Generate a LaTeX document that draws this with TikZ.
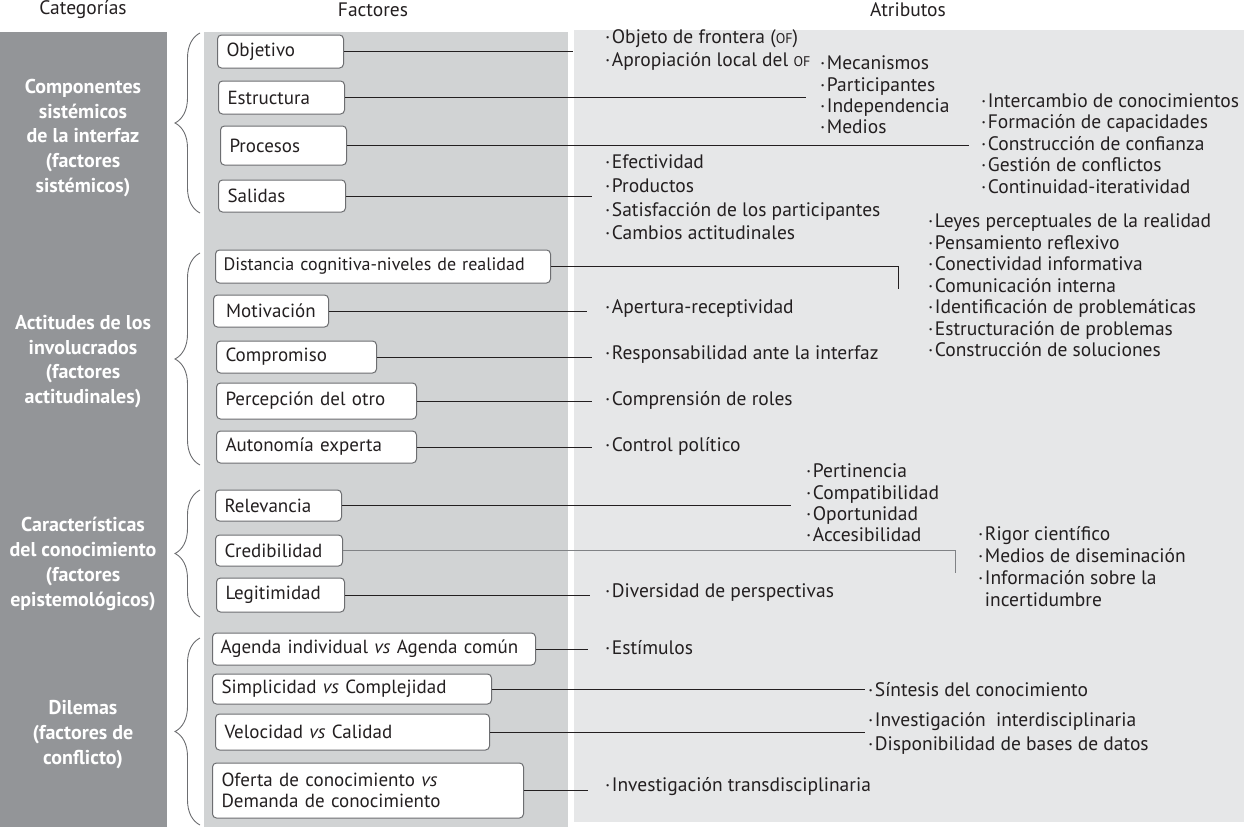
\documentclass[tikz,border=0pt]{standalone}
\usepackage{fontspec}
\setmainfont{PT Sans}
\usetikzlibrary{decorations.pathreplacing}
\definecolor{catgray}{HTML}{939598}
\definecolor{facgray}{HTML}{D1D3D4}
\definecolor{atrgray}{HTML}{E6E7E8}
\definecolor{boxedge}{HTML}{6D6E71}
\definecolor{inkblack}{HTML}{231F20}
\definecolor{linkgray}{HTML}{808285}
\tikzset{
  factorbox/.style={draw=boxedge, line width=1pt, fill=white, rounded corners=4pt, anchor=west, inner xsep=9pt, inner ysep=0pt, align=left, text=inkblack, font=\fontsize{19}{21.5}\selectfont},
  attrtext/.style={anchor=west, inner sep=0pt, align=left, text=inkblack, font=\fontsize{19.5}{21.4}\selectfont},
  cattext/.style={text=white, align=center, font=\bfseries\fontsize{20}{24.8}\selectfont},
  headtext/.style={text=inkblack, font=\fontsize{19.5}{22}\selectfont},
  link/.style={draw=inkblack, line width=1pt},
  catbrace/.style={draw=boxedge, line width=0.9pt, decorate, decoration={brace, amplitude=25pt}}
}
\newcommand{\ofsc}{{\fontsize{14}{16}\selectfont OF}}
\newcommand{\bul}{·\kern1.5pt}
\begin{document}
\begin{tikzpicture}[x=1pt, y=-1pt]
  \useasboundingbox (0,0) rectangle (1244,827);
  % column backgrounds
  \fill[catgray] (0,32) rectangle (167,827);
  \fill[facgray] (204,32) rectangle (568,827);
  \fill[atrgray] (574,30) rectangle (1244,822);
  % headers
  \node[headtext] (hcat) at (83,10) {Categorías};
  \node[headtext] (hfac) at (373,10) {Factores};
  \node[headtext] (hatr) at (908,10) {Atributos};
  % categories
  \node[cattext] (ccomp) at (83,138) {Componentes\\sistémicos\\de la interfaz\\(factores\\sistémicos)};
  \node[cattext] (cact) at (83,361.5) {Actitudes de los\\involucrados\\(factores\\actitudinales)};
  \node[cattext] (ccar) at (83,564) {Características\\del conocimiento\\(factores\\epistemológicos)};
  \node[cattext] (cdil) at (83,734.5) {Dilemas\\(factores de\\conflicto)};
  % braces
  \draw[catbrace] (200,213) -- (200,33);
  \draw[catbrace] (200,465) -- (200,253);
  \draw[catbrace] (200,617) -- (200,490);
  \draw[catbrace] (200,825) -- (200,638);
  % factors
  \node[factorbox, text width=108pt, minimum height=33pt] (obj) at (217,51.5) {Objetivo};
  \node[factorbox, text width=108pt, minimum height=33pt] (est) at (218,97.5) {Estructura};
  \node[factorbox, text width=108pt, minimum height=39pt] (pro) at (220,145.5) {Procesos};
  \node[factorbox, text width=109pt, minimum height=32pt] (sal) at (218,196) {Salidas};
  \node[factorbox, text width=319pt, minimum height=33pt, inner xsep=8pt, font=\fontsize{18}{21.5}\selectfont] (dis) at (215,266.5) {\mbox{Distancia cognitiva-niveles de realidad}};
  \node[factorbox, text width=105pt, minimum height=32pt, inner xsep=5pt, align=center] (mot) at (213,311) {Motivación};
  \node[factorbox, text width=142pt, minimum height=32pt] (com) at (216,357) {Compromiso};
  \node[factorbox, text width=182pt, minimum height=36pt] (per) at (216,401) {Percepción del otro};
  \node[factorbox, text width=182pt, minimum height=32pt] (aut) at (216,447) {Autonomía experta};
  \node[factorbox, text width=108pt, minimum height=31pt] (rel) at (215,505.5) {Relevancia};
  \node[factorbox, text width=109pt, minimum height=31pt] (cre) at (215,550.5) {Credibilidad};
  \node[factorbox, text width=110pt, minimum height=34pt] (leg) at (216,595) {Legitimidad};
  \node[factorbox, text width=307pt, minimum height=32pt, inner xsep=8pt] (age) at (212,649) {Agenda individual \textit{vs} Agenda común};
  \node[factorbox, text width=261pt, minimum height=30pt] (sim) at (212,689) {Simplicidad \textit{vs} Complejidad};
  \node[factorbox, text width=256pt, minimum height=36pt] (vel) at (215,732) {Velocidad \textit{vs} Calidad};
  \node[factorbox, text width=293pt, minimum height=55pt] (ofe) at (212,790.5) {Oferta de conocimiento \textit{vs}\\Demanda de conocimiento};
  % attributes
  \node[attrtext, font=\fontsize{19.5}{23}\selectfont] (objattr) at (605,50.5) {\bul Objeto de frontera (\ofsc)\\\bul Apropiación local del \ofsc};
  \node[attrtext] (estattr) at (820,95) {\bul Mecanismos\\\bul Participantes\\\bul Independencia\\\bul Medios};
  \node[attrtext] (proattr) at (981,143.5) {\bul Intercambio de conocimientos\\\bul Formación de capacidades\\\bul Construcción de confianza\\\bul Gestión de conflictos\\\bul Continuidad-iteratividad};
  \node[attrtext, font=\fontsize{19.5}{23.7}\selectfont] (salattr) at (605,197.5) {\bul Efectividad\\\bul Productos\\\bul Satisfacción de los participantes\\\bul Cambios actitudinales};
  \node[attrtext, font=\fontsize{19.5}{21.5}\selectfont] (disattr) at (928,285.5) {\bul Leyes perceptuales de la realidad\\\bul Pensamiento reflexivo\\\bul Conectividad informativa\\\bul Comunicación interna\\\bul Identificación de problemáticas\\\bul Estructuración de problemas\\\bul Construcción de soluciones};
  \node[attrtext] (motattr) at (605,309) {\bul Apertura-receptividad};
  \node[attrtext] (comattr) at (605,355) {\bul Responsabilidad ante la interfaz};
  \node[attrtext] (perattr) at (605,400) {\bul Comprensión de roles};
  \node[attrtext] (autattr) at (605,446) {\bul Control político};
  \node[attrtext] (relattr) at (806,503) {\bul Pertinencia\\\bul Compatibilidad\\\bul Oportunidad\\\bul Accesibilidad};
  \node[attrtext, font=\fontsize{19.5}{22}\selectfont] (creattr) at (978,567) {\bul Rigor científico\\\bul Medios de diseminación\\\bul Información sobre la\\\phantom{\bul}incertidumbre};
  \node[attrtext] (legattr) at (605,593) {\bul Diversidad de perspectivas};
  \node[attrtext] (ageattr) at (605,648) {\bul Estímulos};
  \node[attrtext] (simattr) at (868,690) {\bul Síntesis del conocimiento};
  \node[attrtext, font=\fontsize{19.5}{24}\selectfont] (velattr) at (868,733) {\bul Investigación~ interdisciplinaria\\\bul Disponibilidad de bases de datos};
  \node[attrtext] (ofeattr) at (605,787) {\bul Investigación transdisciplinaria};
  % connector ends
  \coordinate (objend) at (573,51.5);
  \coordinate (estend) at (806,97.5);
  \coordinate (proend) at (969,145.5);
  \coordinate (salend) at (592,196);
  \coordinate (disend) at (898,289);
  \coordinate (motend) at (587,311);
  \coordinate (comend) at (592,357);
  \coordinate (perend) at (592,401);
  \coordinate (autend) at (592,447);
  \coordinate (relend) at (791,505.5);
  \coordinate (creend) at (955,573);
  \coordinate (legend) at (590,595);
  \coordinate (ageend) at (588,649);
  \coordinate (simend) at (865,689);
  \coordinate (velend) at (865,732);
  \coordinate (ofeend) at (588,790.5);
  % connectors
  \draw[link] (obj.east) -- (obj.east -| objend);
  \draw[link] (est.east) -- (est.east -| estend);
  \draw[link] (pro.east) -- (pro.east -| proend);
  \draw[link] (sal.east) -- (sal.east -| salend);
  \draw[link] (dis.east) -| (disend);
  \draw[link] (mot.east) -- (mot.east -| motend);
  \draw[link] (com.east) -- (com.east -| comend);
  \draw[link] (per.east) -- (per.east -| perend);
  \draw[link] (aut.east) -- (aut.east -| autend);
  \draw[link] (rel.east) -- (rel.east -| relend);
  \draw[link, draw=linkgray] (cre.east) -| (creend);
  \draw[link] (leg.east) -- (leg.east -| legend);
  \draw[link] (age.east) -- (age.east -| ageend);
  \draw[link] (sim.east) -- (sim.east -| simend);
  \draw[link] (vel.east) -- (vel.east -| velend);
  \draw[link] (ofe.east) -- (ofe.east -| ofeend);
\end{tikzpicture}
\end{document}
